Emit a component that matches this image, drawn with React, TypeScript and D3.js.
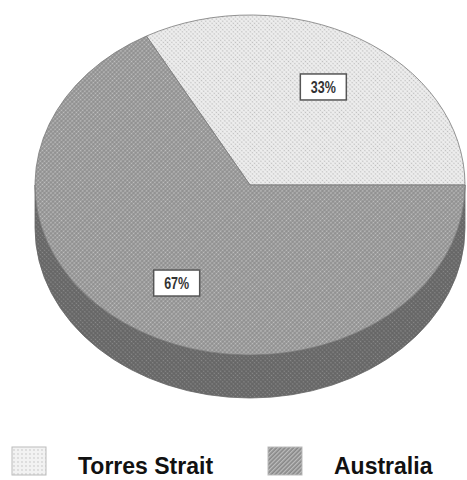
import React from 'react';
import * as d3 from 'd3';

// chart values
const categories = ['Torres Strait', 'Australia'];
const shares = [33, 67];
const fills = ['url(#torres)', 'url(#aus)'];
const sideFills = ['url(#torresSide)', 'url(#ausSide)'];
const swatches = ['url(#torresSw)', 'url(#ausSw)'];

const W = 467;
const H = 480;
const cx = 250;
const cy = 185;
const rx = 215;
const ry = 170;
const depth = 43;

// a = counter-clockwise from 3 o'clock
const pt = (a: number, dy = 0): [number, number] => [cx + rx * Math.cos(a), cy - ry * Math.sin(a) + dy];

const App = () => {
  const total = d3.sum(shares);
  // Australia starts at 3 o'clock and runs clockwise on screen... in math terms
  // d3.pie runs clockwise from 12; convert to counter-clockwise from 3 o'clock
  const pie = d3.pie<number>().sort(null).startAngle(Math.PI / 2 - (2 * Math.PI * shares[0]) / total).endAngle(Math.PI / 2 - (2 * Math.PI * shares[0]) / total + 2 * Math.PI);
  const arcs = pie(shares);
  const pctFmt = d3.format('.0%');

  const slices = arcs.map((d, i) => {
    // screen clockwise-from-12 -> math ccw-from-3
    const a1 = Math.PI / 2 - d.startAngle;
    const a0 = Math.PI / 2 - d.endAngle;
    let s0 = a0;
    let s1 = a1;
    while (s0 < 0) {
      s0 += 2 * Math.PI;
      s1 += 2 * Math.PI;
    }
    return { i, a0: s0, a1: s1, value: d.data };
  });

  const topPath = (a0: number, a1: number) => {
    const [x0, y0] = pt(a0);
    const [x1, y1] = pt(a1);
    const large = a1 - a0 > Math.PI ? 1 : 0;
    return `M${cx},${cy}L${x0},${y0}A${rx},${ry} 0 ${large} 0 ${x1},${y1}Z`;
  };

  const sidePaths: { i: number; d: string }[] = [];
  slices.forEach((s) => {
    // front half is a in [PI, 2PI] (mod 2PI)
    [0, 2 * Math.PI].forEach((off) => {
      const lo = Math.max(s.a0, Math.PI + off);
      const hi = Math.min(s.a1, 2 * Math.PI + off);
      if (hi - lo > 1e-6) {
        const [x0, y0] = pt(lo);
        const [x1, y1] = pt(hi);
        sidePaths.push({
          i: s.i,
          d: `M${x0},${y0}A${rx},${ry} 0 0 0 ${x1},${y1}L${x1},${y1 + depth}A${rx},${ry} 0 0 1 ${x0},${y0 + depth}Z`,
        });
      }
    });
  });

  const legendX = [12, 268];

  return (
    <svg width={W} height={H} style={{ position: 'absolute', left: 0, top: 0, background: '#fff' }}>
      <defs>
        <pattern id="torres" width="3" height="3" patternUnits="userSpaceOnUse" patternTransform="rotate(45)">
          <rect width="3" height="3" fill="#eeeeee" />
          <circle cx="1.5" cy="1.5" r="0.8" fill="#bdbdbd" />
        </pattern>
        <pattern id="aus" width="3" height="3" patternUnits="userSpaceOnUse" patternTransform="rotate(45)">
          <rect width="3" height="3" fill="#8e8e8e" />
          <circle cx="1.5" cy="1.5" r="0.9" fill="#c2c2c2" />
        </pattern>
        <pattern id="torresSide" width="3" height="3" patternUnits="userSpaceOnUse">
          <rect width="3" height="3" fill="#c8c8c8" />
        </pattern>
        <pattern id="ausSide" width="3" height="3" patternUnits="userSpaceOnUse" patternTransform="rotate(45)">
          <rect width="3" height="3" fill="#666666" />
          <circle cx="1.5" cy="1.5" r="0.8" fill="#8c8c8c" />
        </pattern>
        <pattern id="torresSw" width="4" height="4" patternUnits="userSpaceOnUse">
          <rect width="4" height="4" fill="#f2f2f2" />
          <circle cx="2" cy="2" r="0.7" fill="#bbbbbb" />
        </pattern>
        <pattern id="ausSw" width="3" height="3" patternUnits="userSpaceOnUse" patternTransform="rotate(45)">
          <rect width="3" height="3" fill="#888888" />
          <rect width="1.3" height="3" fill="#bdbdbd" />
        </pattern>
      </defs>

      {sidePaths.map((p, k) => (
        <path key={'s' + k} d={p.d} fill={sideFills[p.i]} stroke="#666" strokeWidth={0.8} />
      ))}
      {slices.map((s) => (
        <path key={'t' + s.i} d={topPath(s.a0, s.a1)} fill={fills[s.i]} stroke="#7a7a7a" strokeWidth={0.8} />
      ))}

      {slices.map((s) => {
        const mid = (s.a0 + s.a1) / 2;
        const lx = cx + rx * 0.67 * Math.cos(mid);
        const ly = cy - ry * 0.67 * Math.sin(mid);
        return (
          <g key={'l' + s.i} transform={`translate(${lx},${ly})`}>
            <rect x={-23} y={-13} width={46} height={26} fill="#fff" stroke="#555" strokeWidth={1.5} />
            <text
              y={6}
              textAnchor="middle"
              fontFamily="Liberation Sans, Arial, sans-serif"
              fontWeight="bold"
              fontSize={17}
              textLength={25}
              lengthAdjust="spacingAndGlyphs"
              fill="#333"
            >
              {pctFmt(s.value / total)}
            </text>
          </g>
        );
      })}

      {categories.map((c, i) => (
        <g key={c}>
          <rect x={legendX[i]} y={447} width={34} height={28} fill={swatches[i]} stroke="#bbb" strokeWidth={1} />
          <text
            x={legendX[i] + 66}
            y={474}
            fontFamily="Liberation Sans, Arial, sans-serif"
            fontWeight="bold"
            fontSize={23}
            fill="#111"
          >
            {c}
          </text>
        </g>
      ))}
    </svg>
  );
};

export default App;
